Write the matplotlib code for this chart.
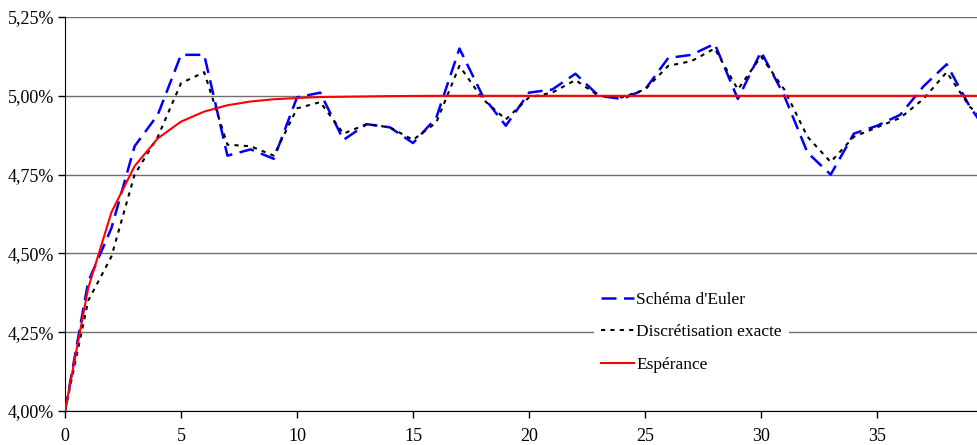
import matplotlib.pyplot as plt
from matplotlib.ticker import FuncFormatter, MultipleLocator

plt.rcParams['font.family'] = ['Liberation Serif', 'DejaVu Serif']

pas = list(range(0, 41))

# taux simulés (en %)
euler = [4.00, 4.41, 4.58, 4.84, 4.94, 5.13, 5.13, 4.81, 4.83, 4.80,
         4.995, 5.01, 4.86, 4.91, 4.90, 4.85, 4.93, 5.15, 5.00, 4.905,
         5.01, 5.02, 5.07, 5.00, 4.99, 5.02, 5.12, 5.13, 5.165, 4.99,
         5.14, 5.00, 4.82, 4.75, 4.88, 4.905, 4.94, 5.03, 5.10, 4.965,
         4.86]
exacte = [4.00, 4.35, 4.49, 4.75, 4.87, 5.04, 5.075, 4.845, 4.84, 4.81,
          4.96, 4.98, 4.88, 4.91, 4.90, 4.86, 4.915, 5.095, 4.99, 4.925,
          4.995, 5.01, 5.05, 5.00, 4.995, 5.02, 5.095, 5.11, 5.15, 5.02,
          5.125, 5.02, 4.87, 4.79, 4.87, 4.90, 4.93, 4.99, 5.075, 4.965,
          4.90]
esperance = [4.00, 4.39, 4.63, 4.777, 4.865, 4.918, 4.950, 4.970, 4.982, 4.989,
             4.993, 4.996, 4.997, 4.998, 4.999, 4.9995, 5.00, 5.00, 5.00, 5.00,
             5.00, 5.00, 5.00, 5.00, 5.00, 5.00, 5.00, 5.00, 5.00, 5.00,
             5.00, 5.00, 5.00, 5.00, 5.00, 5.00, 5.00, 5.00, 5.00, 5.00,
             5.00]

fig = plt.figure(figsize=(9.78, 4.45), dpi=100)
ax = fig.add_axes([65 / 978, 34 / 445, 1 - 65 / 978, 394 / 445])

ax.plot(pas, euler, color='#0000ff', lw=1.8, dashes=(6, 3), label="Schéma d'Euler", zorder=3)
ax.plot(pas, exacte, color='black', lw=1.5, dashes=(2, 2.5), label='Discrétisation exacte', zorder=4)
ax.plot(pas, esperance, color='#ff0000', lw=1.5, label='Espérance', zorder=5)

ax.set_xlim(0, 39.35)
ax.set_ylim(4.0, 5.25)
ax.xaxis.set_major_locator(MultipleLocator(5))
ax.yaxis.set_major_locator(MultipleLocator(0.25))
ax.yaxis.set_major_formatter(FuncFormatter(lambda v, p: f"{v:.2f}%".replace('.', ',')))
ax.grid(axis='y', color='#707070', lw=1)
ax.set_axisbelow(True)
for s in ('top', 'right'):
    ax.spines[s].set_visible(False)
ax.tick_params(labelsize=13, direction='out', length=5, width=1)
ax.tick_params(axis='x', pad=7)
ax.tick_params(axis='y', pad=3)

leg = ax.legend(loc='upper left', bbox_to_anchor=(585 / 978, 1 - 276 / 445),
                bbox_transform=fig.transFigure, frameon=True, fancybox=False,
                edgecolor='none', facecolor='white', framealpha=1, fontsize=12.5,
                handlelength=1.9, handletextpad=0.15, labelspacing=0.95,
                borderpad=0.4)

fig.savefig('out.png', dpi=100)
